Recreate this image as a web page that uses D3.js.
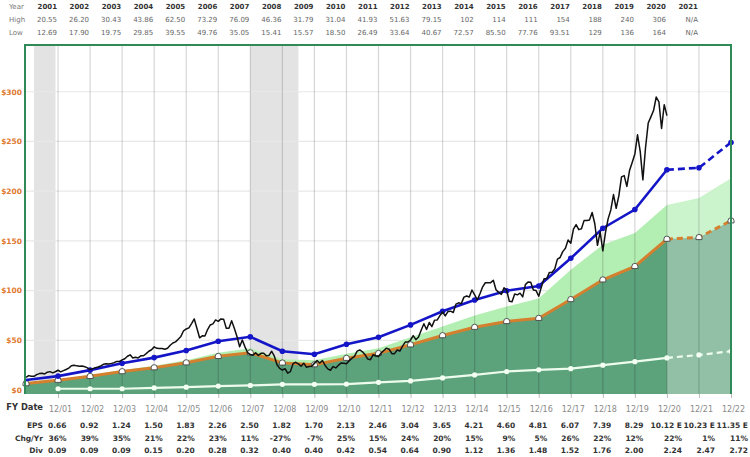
<!DOCTYPE html>
<html><head><meta charset="utf-8">
<script src="https://cdn.jsdelivr.net/npm/d3@7"></script>
<style>body{margin:0;background:#fff}svg{display:block}</style>
</head><body>
<svg id="c" width="750" height="457"></svg>
<script>
// ---------- data ----------
const years = [2001,2002,2003,2004,2005,2006,2007,2008,2009,2010,2011,2012,2013,2014,2015,2016,2017,2018,2019,2020,2021];
const highs = ["20.55","26.20","30.43","43.86","62.50","73.29","76.09","46.36","31.79","31.04","41.93","51.63","79.15","102","114","111","154","188","240","306","N/A"];
const lows  = ["12.69","17.90","19.75","29.85","39.55","49.76","35.05","15.41","15.57","18.50","26.49","33.64","40.67","72.57","85.50","77.76","93.51","129","136","164","N/A"];
const fyDates = ["12/01","12/02","12/03","12/04","12/05","12/06","12/07","12/08","12/09","12/10","12/11","12/12","12/13","12/14","12/15","12/16","12/17","12/18","12/19","12/20","12/21","12/22"];
const epsLabels = ["0.66","0.92","1.24","1.50","1.83","2.26","2.50","1.82","1.70","2.13","2.46","3.04","3.65","4.21","4.60","4.81","6.07","7.39","8.29","10.12 E","10.23 E","11.35 E"];
const chgLabels = ["36%","39%","35%","21%","22%","23%","11%","-27%","-7%","25%","15%","24%","20%","15%","9%","5%","26%","22%","12%","22%","1%","11%"];
const divLabels = ["0.09","0.09","0.09","0.15","0.20","0.28","0.32","0.40","0.40","0.42","0.54","0.64","0.90","1.12","1.36","1.48","1.52","1.76","2.00","2.24","2.47","2.72"];
const yTicks = [0,50,100,150,200,250,300];

// fiscal-year-end series, 12/00 .. 12/22
const earningsLine = [6.5,9.9,13.8,18.6,22.5,27.5,33.9,37.5,27.3,25.5,32.0,36.9,45.6,54.8,63.2,69.0,72.2,91.1,110.9,124.4,151.8,153.5,170.3];
const normalPE     = [10.0,14.0,20.0,26.9,32.6,39.7,49.0,53.5,39.0,36.0,46.0,53.0,65.5,79.2,90.5,99.9,104.6,132.5,162.7,181.5,221.5,223.5,249.0];
const bandTop      = [7.8,10.6,14.8,20.0,24.5,30.0,37.5,42.0,31.0,30.0,36.5,42.0,53.0,64.0,75.0,84.0,92.0,121.0,146.0,158.0,186.0,193.0,213.0];
// dividend line, 12/01 .. 12/22
const divLine      = [1.3,1.3,1.3,2.1,2.9,4.0,4.6,5.7,5.7,6.0,7.7,9.2,12.2,15.2,18.6,20.3,21.5,25.0,28.5,32.3,35.3,39.0];

// monthly price, Dec 2000 .. Dec 2020
const price = [12.8,
14.5,13.8,13.8,15.5,16.5,16.8,16.2,17.9,18.5,17.3,18.4,19.9,
18.3,19.5,20.6,22.0,24.4,24.9,24.3,24.0,24.2,23.5,22.2,20.6,
21.5,22.4,23.1,24.2,25.9,26.4,26.2,26.8,27.5,28.8,28.8,30.3,
31.5,34.0,35.4,32.2,32.9,32.3,34.4,34.5,36.6,39.0,40.5,43.4,
41.9,41.7,41.8,41.0,42.0,45.0,47.3,48.4,51.1,53.9,59.6,61.4,
62.5,66.8,71.5,62.1,52.5,54.5,54.3,60.8,65.4,66.5,70.5,69.1,
71.5,71.3,62.1,62.2,69.6,62.2,53.8,43.5,50.4,43.4,37.5,35.7,
35.0,37.5,34.8,36.9,37.0,34.4,34.8,39.0,34.0,25.4,21.8,20.1,
21.4,17.0,18.5,26.5,27.9,26.3,23.9,27.0,23.0,23.7,24.0,26.8,
29.6,27.2,29.7,24.7,21.3,19.9,23.6,22.2,25.0,27.1,26.9,26.5,
29.3,31.8,33.9,39.1,40.3,38.4,35.4,31.1,30.5,35.5,34.2,33.7,
37.3,39.8,42.1,41.0,36.6,36.6,40.2,39.2,44.2,48.2,48.3,50.3,
54.8,50.6,53.3,60.4,66.7,60.9,67.9,63.8,70.3,70.5,74.9,78.5,
74.6,78.9,79.3,78.0,86.4,87.7,86.9,93.4,94.5,93.5,100.6,95.8,
90.7,96.9,103.8,107.9,107.9,108.0,110.4,100.8,98.2,96.2,102.8,100.3,
89.2,88.8,96.6,95.7,97.4,93.7,106.0,108.6,108.3,100.5,100.0,94.3,
103.7,111.9,112.0,118.3,118.5,121.7,131.7,133.3,139.2,142.5,150.8,147.6,
161.8,166.4,161.3,162.2,170.6,170.6,171.1,178.5,167.2,145.5,159.1,140.0,
158.5,172.4,181.1,196.6,182.8,195.3,214.4,215.6,204.8,220.7,228.9,237.4,
256.7,240.0,211.4,243.9,268.5,274.7,281.1,294.7,289.9,263.0,287.0,276.0];

const recessions = [[0.25,0.92],[7.0,8.5]];   // in fiscal years after 12/00
const forecastStart = 20;

(function(){
const svg = d3.select("#c");
const FONT = "DejaVu Sans, Verdana, sans-serif";
const pTop = 45, pBottom = 394, pLeft = 25, pRight = 731;
const x = d3.scaleLinear().domain([0,22]).range([26, 731]);
const y = d3.scaleLinear().domain([-4, 347]).range([pBottom, pTop]);

const g = svg.append("g");
g.selectAll("rect.rec").data(recessions).join("rect")
  .attr("x", d=>x(d[0])).attr("width", d=>x(d[1])-x(d[0]))
  .attr("y", pTop+1).attr("height", pBottom-pTop-1).attr("fill","#e3e3e3");
g.selectAll("line.hg").data(yTicks.filter(d=>d>0)).join("line")
  .attr("x1", pLeft).attr("x2", pRight).attr("y1", d=>y(d)).attr("y2", d=>y(d))
  .attr("stroke","#e8e8e8").attr("stroke-width",1.2);

const t22 = d3.range(0,23);
g.append("path").datum(t22)
  .attr("d", d3.area().x(t=>x(t)).y0(y(-4)).y1(t=>y(bandTop[t])))
  .attr("fill","#b3efb3");
g.append("path").datum(t22)
  .attr("d", d3.area().x(t=>x(t)).y0(y(-4)).y1(t=>y(earningsLine[t])))
  .attr("fill","#5ca27b");
g.append("rect").attr("x", x(forecastStart)).attr("width", x(22)-x(forecastStart))
  .attr("y", pTop).attr("height", pBottom-pTop).attr("fill","#fff").attr("opacity",0.33);
g.selectAll("line.vg").data(d3.range(1,22)).join("line")
  .attr("x1", d=>x(d)).attr("x2", d=>x(d)).attr("y1", pTop+1).attr("y2", pBottom)
  .attr("stroke","rgba(0,0,0,0.16)").attr("stroke-width",1.2);

function seg(vals, t0, from, to){ const out=[]; for(let t=from;t<=to;t++) out.push([t, vals[t-t0]]); return out; }
const line = d3.line().x(d=>x(d[0])).y(d=>y(d[1]));

g.append("path").datum(seg(divLine,1,1,20)).attr("d",line)
  .attr("fill","none").attr("stroke","#eefcee").attr("stroke-width",2.2);
g.append("path").datum(seg(divLine,1,20,22)).attr("d",line)
  .attr("fill","none").attr("stroke","#eefcee").attr("stroke-width",2.2).attr("stroke-dasharray","6,4");
g.selectAll("circle.dv").data(seg(divLine,1,1,22)).join("circle")
  .attr("cx",d=>x(d[0])).attr("cy",d=>y(d[1])).attr("r",2.6).attr("fill","#f2fff2");

g.append("path").datum(seg(earningsLine,0,0,20)).attr("d",line)
  .attr("fill","none").attr("stroke","#d4802f").attr("stroke-width",3);
g.append("path").datum(seg(earningsLine,0,20,22)).attr("d",line)
  .attr("fill","none").attr("stroke","#d4802f").attr("stroke-width",3).attr("stroke-dasharray","6,4");
g.selectAll("path.mk").data(seg(earningsLine,0,0,22)).join("path")
  .attr("transform", d=>`translate(${x(d[0])},${y(d[1])})`)
  .attr("d","M-3,2.2 L-3,0 A3,3 0 0 1 3,0 L3,2.2 Z")
  .attr("fill","#fff").attr("stroke","#444").attr("stroke-width",0.9);

g.append("path").datum(seg(normalPE,0,0,20)).attr("d",line)
  .attr("fill","none").attr("stroke","#1515c8").attr("stroke-width",2.6);
g.append("path").datum(seg(normalPE,0,20,22)).attr("d",line)
  .attr("fill","none").attr("stroke","#1515c8").attr("stroke-width",2.6).attr("stroke-dasharray","7,4");
g.selectAll("circle.bl").data(seg(normalPE,0,1,22)).join("circle")
  .attr("cx",d=>x(d[0])).attr("cy",d=>y(d[1])).attr("r",2.8).attr("fill","#1515c8");

g.append("path").datum(price.map((v,i)=>[i/12, v])).attr("d", line)
  .attr("fill","none").attr("stroke","#111").attr("stroke-width",1.5).attr("stroke-linejoin","round");

g.append("path").attr("d",`M${pLeft},${pBottom} L${pLeft},${pTop} L${pRight},${pTop} L${pRight},${pBottom}`)
  .attr("fill","none").attr("stroke","#2f8a57").attr("stroke-width",2);

const ya = svg.append("g").attr("transform",`translate(${pLeft-2},0)`)
  .call(d3.axisLeft(y).tickValues(yTicks).tickFormat(d=>"$"+d).tickSize(0).tickPadding(1));
ya.select(".domain").remove();
ya.selectAll("text").attr("fill","#e0782e").attr("font-family",FONT).attr("font-size",7.5).attr("font-weight","bold");

const xa = svg.append("g").attr("transform",`translate(0,${pBottom})`)
  .call(d3.axisBottom(x).tickValues(d3.range(1,23)).tickFormat((d,i)=>fyDates[i]).tickSize(4).tickPadding(8));
xa.select(".domain").remove();
xa.selectAll("line").attr("stroke","#bbb");
xa.selectAll("text").attr("fill","#8a8a8a").attr("font-family",FONT).attr("font-size",8).attr("dx",2);

const lab = svg.append("g").attr("font-family",FONT).attr("font-weight","bold").attr("fill","#333");
[["FY Date",410,8.3],["EPS",428,7.5],["Chg/Yr",440.5,7.5],["Div",453,7.5]].forEach(r=>{
  lab.append("text").attr("x",43).attr("y",r[1]).attr("text-anchor","end").attr("font-size",r[2]).text(r[0]);
});
function colRight(i){ return i<19 ? x(i+1)+8.5 : [682,715,748][i-19]; }
[[epsLabels,428],[chgLabels,440.5],[divLabels,453]].forEach(r=>{
  lab.append("g").selectAll("text").data(r[0]).join("text")
    .attr("x",(d,i)=>colRight(i)).attr("y",r[1]).attr("text-anchor","end").attr("font-size",7.5).text(d=>d);
});

const tt = svg.append("g").attr("font-family",FONT).attr("font-size",7);
[["Year",9],["High",22],["Low",34.5]].forEach(r=>{
  tt.append("text").attr("x",9).attr("y",r[1]).attr("fill","#777").text(r[0]);
});
tt.append("g").selectAll("text").data(years).join("text")
  .attr("x",(d,i)=>x(i+1)-1).attr("y",9).attr("text-anchor","end").attr("font-weight","bold").attr("fill","#333").text(d=>d);
tt.append("g").selectAll("text").data(highs).join("text")
  .attr("x",(d,i)=>x(i+1)-1).attr("y",22).attr("text-anchor","end").attr("fill","#666").text(d=>d);
tt.append("g").selectAll("text").data(lows).join("text")
  .attr("x",(d,i)=>x(i+1)-1).attr("y",34.5).attr("text-anchor","end").attr("fill","#666").text(d=>d);
})();
</script>
</body></html>
